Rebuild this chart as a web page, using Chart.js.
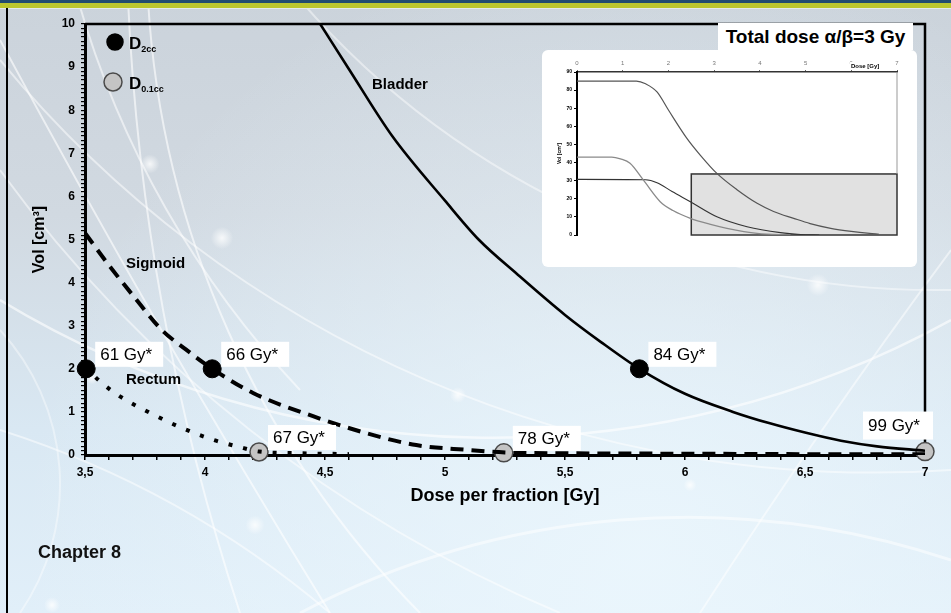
<!DOCTYPE html>
<html><head><meta charset="utf-8">
<script src="https://cdn.jsdelivr.net/npm/chart.js@4.4.1/dist/chart.umd.min.js"></script>
<style>
html,body{margin:0;padding:0;width:951px;height:613px;overflow:hidden;font-family:"Liberation Sans",Arial,sans-serif;}
canvas{position:absolute;left:0;top:0;}
#insetBox{position:absolute;left:542px;top:50px;width:375px;height:217px;background:#fff;border-radius:6px;overflow:hidden;}
#totalDose{position:absolute;left:718px;top:23px;width:195px;height:27px;background:#fff;font-weight:bold;font-size:19px;line-height:28px;text-align:center;color:#000;white-space:nowrap;}
#chapter{position:absolute;left:38px;top:542px;font-weight:bold;font-size:18px;color:#111;}
</style></head>
<body>
<canvas id="bg" width="951" height="613"></canvas>
<canvas id="main" width="951" height="613"></canvas>
<div id="insetBox"><canvas id="inset" width="375" height="217"></canvas></div>
<div id="totalDose">Total dose α/β=3 Gy</div>
<div id="chapter">Chapter 8</div>
<script>
// ---------------- data ----------------
const xTickLabels = ['3,5','4','4,5','5','5,5','6','6,5','7'];
const yTickLabels = ['0','1','2','3','4','5','6','7','8','9','10'];

const bladderX = [4.48, 4.6, 4.78, 5.0, 5.14, 5.3, 5.5, 5.65, 5.81, 6.0, 6.2, 6.35, 6.5, 6.65, 6.8, 7.0];
const bladderY = [10, 8.95, 7.4, 5.9, 5.0, 4.2, 3.25, 2.62, 2.0, 1.42, 1.0, 0.74, 0.52, 0.33, 0.2, 0.1];

const sigmoidX = [3.5, 3.6, 3.7, 3.82, 3.92, 4.03, 4.2, 4.45, 4.67, 4.88, 5.09, 5.25, 5.5, 6.0, 6.5, 7.0];
const sigmoidY = [5.15, 4.4, 3.7, 2.9, 2.45, 2.0, 1.44, 0.9, 0.51, 0.23, 0.12, 0.06, 0.04, 0.03, 0.02, 0.02];

const rectumX = [3.5, 3.56, 3.64, 3.77, 3.89, 4.03, 4.14, 4.225, 4.4, 4.6];
const rectumY = [2.05, 1.72, 1.38, 0.98, 0.66, 0.36, 0.19, 0.08, 0.04, 0.02];

const d2ccX = [3.505, 4.03, 5.81];
const d2ccY = [2.0, 2.0, 2.0];
const d2ccLabels = ['61 Gy*', '66 Gy*', '84 Gy*'];

const d01X = [4.225, 5.245, 7.0];
const d01Y = [0.07, 0.05, 0.08];
const d01Labels = ['67 Gy*', '78 Gy*', '99 Gy*'];

// inset (total dose, alpha/beta = 3 Gy)
const insetDoseTicks = ['0','1','2','3','4','5','6','7'];
const insetVolTicks = ['0','10','20','30','40','50','60','70','80','90'];
const insetAX = [0, 1.3, 1.5, 1.75, 2.0, 2.4, 2.7, 3.06, 3.5, 3.94, 4.3, 4.74, 5.1, 5.55, 6.0, 6.4, 6.6];
const insetAY = [85, 85, 83.5, 79, 69, 53.5, 44, 34, 25, 17.5, 13, 9.2, 6.3, 3.7, 2, 0.9, 0.5];
const insetBX = [0, 0.76, 0.95, 1.16, 1.45, 1.82, 2.1, 2.48, 2.9, 3.28, 3.94, 4.67];
const insetBY = [43, 43, 42, 39.6, 30.4, 18.4, 13.5, 9.2, 6, 3.7, 0.9, 0];
const insetCX = [0, 1.5, 1.75, 2.08, 2.48, 3.06, 3.72, 4.45, 4.89, 5.3];
const insetCY = [30.7, 30.5, 28.9, 24, 18.4, 10.1, 4.6, 1.3, 0.3, 0];
const insetBoxX = [2.5, 7];
const insetBoxY = [0, 33.7];

// ---------------- helpers ----------------
const FONT = "'Liberation Sans', Arial, sans-serif";
Chart.defaults.font.family = FONT;
const pts = (xs, ys) => xs.map((x, i) => ({x: x, y: ys[i]}));
const near = (a, b) => Math.abs(a - b) < 1e-6;

// ---------------- background slide ----------------
(function drawBg(){
  const c = document.getElementById('bg').getContext('2d');
  let g = c.createLinearGradient(0, 0, 0, 613);
  g.addColorStop(0, '#cbd3db');
  g.addColorStop(0.35, '#d1d9e1');
  g.addColorStop(0.7, '#d9e8f3');
  g.addColorStop(1, '#e1eff9');
  c.fillStyle = g; c.fillRect(0, 0, 951, 613);
  let r = c.createRadialGradient(640, 560, 0, 640, 560, 620);
  r.addColorStop(0, 'rgba(236,247,253,0.85)');
  r.addColorStop(1, 'rgba(236,247,253,0)');
  c.fillStyle = r; c.fillRect(0, 0, 951, 613);
  function arc3(p1, p2, p3, w, a){
    const [x1,y1]=p1,[x2,y2]=p2,[x3,y3]=p3;
    const d = 2*(x1*(y2-y3)+x2*(y3-y1)+x3*(y1-y2));
    const ux = ((x1*x1+y1*y1)*(y2-y3)+(x2*x2+y2*y2)*(y3-y1)+(x3*x3+y3*y3)*(y1-y2))/d;
    const uy = ((x1*x1+y1*y1)*(x3-x2)+(x2*x2+y2*y2)*(x1-x3)+(x3*x3+y3*y3)*(x2-x1))/d;
    const rad = Math.hypot(x1-ux, y1-uy);
    const a1=Math.atan2(y1-uy,x1-ux), a2=Math.atan2(y2-uy,x2-ux), a3=Math.atan2(y3-uy,x3-ux);
    const nm = v => ((v % (2*Math.PI)) + 2*Math.PI) % (2*Math.PI);
    const cw = nm(a2-a1) < nm(a3-a1);
    c.strokeStyle = 'rgba(255,255,255,' + a + ')'; c.lineWidth = w;
    c.beginPath(); c.arc(ux, uy, rad, a1, a3, !cw); c.stroke();
  }
  const arcs = [
    [[0,40],[110,240],[330,613],2,0.6],
    [[78,0],[140,160],[300,390],2,0.55],
    [[128,0],[150,230],[240,613],2,0.6],
    [[148,0],[200,260],[420,613],2,0.6],
    [[0,170],[250,430],[560,613],2,0.5],
    [[0,300],[420,435],[951,320],2.5,0.6],
    [[0,60],[450,390],[951,470],2,0.5],
    [[300,0],[520,180],[951,290],2,0.45],
    [[700,613],[850,390],[951,250],2,0.5],
    [[0,430],[200,520],[330,613],2,0.5],
    [[300,613],[620,520],[951,560],3,0.5],
    [[20,613],[60,480],[0,330],2,0.4]
  ];
  arcs.forEach(a => arc3(a[0], a[1], a[2], a[3], a[4]));
  // glowing dots
  [[150,164,6],[222,238,7],[92,378,4],[458,395,5],[818,285,7],[690,485,4],[255,525,6],[52,605,5]].forEach(d => {
    const rg = c.createRadialGradient(d[0], d[1], 0, d[0], d[1], d[2]*1.6);
    rg.addColorStop(0, 'rgba(255,255,255,0.8)'); rg.addColorStop(1, 'rgba(255,255,255,0)');
    c.fillStyle = rg; c.beginPath(); c.arc(d[0], d[1], d[2]*1.6, 0, 2*Math.PI); c.fill();
  });
  // header bands and left frame line
  c.fillStyle = '#224b6f'; c.fillRect(0, 0, 951, 3);
  c.fillStyle = '#bcc62e'; c.fillRect(0, 3, 951, 5);
  c.fillStyle = '#e4eaee'; c.fillRect(0, 8, 951, 1);
  c.fillStyle = '#000'; c.fillRect(6, 8, 2, 605);
})();

// ---------------- main chart plugins ----------------
const framePlugin = {
  id: 'frame',
  beforeDatasetsDraw(chart){
    const {ctx, chartArea: a} = chart;
    ctx.save(); ctx.strokeStyle = '#000'; ctx.lineWidth = 2.5;
    ctx.beginPath(); ctx.moveTo(a.left, a.top); ctx.lineTo(a.right, a.top); ctx.lineTo(a.right, a.bottom); ctx.stroke();
    ctx.restore();
  }
};

const pointLabelPlugin = {
  id: 'pointLabels',
  afterDatasetsDraw(chart){
    const ctx = chart.ctx;
    ctx.save();
    ctx.font = '17px ' + FONT;
    ctx.textBaseline = 'middle'; ctx.textAlign = 'left';
    const sets = [[3, d2ccLabels], [4, d01Labels]];
    sets.forEach(([di, labels]) => {
      const meta = chart.getDatasetMeta(di);
      meta.data.forEach((el, i) => {
        let dx = 9, dy = -27, w = 68, h = 25;
        if (di === 4 && i === labels.length - 1) { dx = -62; dy = -40; w = 70; h = 28; }
        const bx = el.x + dx, by = el.y + dy;
        ctx.fillStyle = '#fff'; ctx.fillRect(bx, by, w, h);
        ctx.fillStyle = '#000'; ctx.fillText(labels[i], bx + 5, by + h / 2 + 1);
      });
    });
    ctx.restore();
  }
};

const seriesNamePlugin = {
  id: 'seriesNames',
  afterDatasetsDraw(chart, args, opts){
    const {ctx, scales} = chart;
    ctx.save();
    ctx.font = 'bold 15px ' + FONT; ctx.fillStyle = '#000';
    ctx.textBaseline = 'middle'; ctx.textAlign = 'left';
    opts.items.forEach(it => {
      ctx.fillText(it.text, scales.x.getPixelForValue(it.x), scales.y.getPixelForValue(it.y));
    });
    ctx.restore();
  }
};

const legendPlugin = {
  id: 'customLegend',
  afterDraw(chart){
    const {ctx, chartArea: a} = chart;
    const entries = [
      {fill: '#000', stroke: '#000', cx: a.left + 30, cy: a.top + 18, r: 8, sub: '2cc'},
      {fill: '#c4c4c4', stroke: '#4a4a4a', cx: a.left + 28, cy: a.top + 58, r: 9, sub: '0.1cc'}
    ];
    ctx.save();
    entries.forEach(e => {
      ctx.beginPath(); ctx.arc(e.cx, e.cy, e.r, 0, 2 * Math.PI);
      ctx.fillStyle = e.fill; ctx.fill();
      ctx.lineWidth = 1.5; ctx.strokeStyle = e.stroke; ctx.stroke();
      ctx.fillStyle = '#000'; ctx.textBaseline = 'alphabetic'; ctx.textAlign = 'left';
      ctx.font = 'bold 17px ' + FONT;
      const tx = a.left + 44;
      ctx.fillText('D', tx, e.cy + 7);
      const dw = ctx.measureText('D').width;
      ctx.font = 'bold 9px ' + FONT;
      ctx.fillText(e.sub, tx + dw, e.cy + 10);
    });
    ctx.restore();
  }
};

new Chart(document.getElementById('main'), {
  type: 'line',
  data: {
    datasets: [
      {label: 'Bladder', data: pts(bladderX, bladderY), borderColor: '#000', borderWidth: 2.6,
       pointRadius: 0, cubicInterpolationMode: 'monotone', fill: false},
      {label: 'Sigmoid', data: pts(sigmoidX, sigmoidY), borderColor: '#000', borderWidth: 4,
       borderDash: [13, 8], pointRadius: 0, cubicInterpolationMode: 'monotone', fill: false},
      {label: 'Rectum', data: pts(rectumX, rectumY), borderColor: '#000', borderWidth: 4,
       borderDash: [4, 11], pointRadius: 0, cubicInterpolationMode: 'monotone', fill: false},
      {label: 'D2cc', data: pts(d2ccX, d2ccY), showLine: false, pointRadius: 9,
       pointBackgroundColor: '#000', pointBorderColor: '#000', pointBorderWidth: 1, clip: false},
      {label: 'D0.1cc', data: pts(d01X, d01Y), showLine: false, pointRadius: 9,
       pointBackgroundColor: '#c4c4c4', pointBorderColor: '#4a4a4a', pointBorderWidth: 1.5, clip: false}
    ]
  },
  options: {
    responsive: false, animation: false, devicePixelRatio: 1,
    layout: {padding: {left: 26, right: 26, top: 24, bottom: 106}},
    plugins: {
      legend: {display: false}, tooltip: {enabled: false},
      seriesNames: {items: [
        {text: 'Bladder', x: 4.696, y: 8.58},
        {text: 'Sigmoid', x: 3.671, y: 4.43},
        {text: 'Rectum', x: 3.671, y: 1.74}
      ]}
    },
    scales: {
      x: {
        type: 'linear', min: 3.5, max: 7,
        afterFit: s => { s.height = 52; },
        ticks: {
          stepSize: 0.1, autoSkip: false, maxRotation: 0, padding: 5, color: '#000',
          font: {size: 12, weight: 'bold'},
          callback: v => { const k = (v - 3.5) * 2; return near(k, Math.round(k)) ? xTickLabels[Math.round(k)] : ''; }
        },
        grid: {drawOnChartArea: false, tickLength: 5, color: '#000', lineWidth: 1.5},
        border: {color: '#000', width: 3},
        title: {display: true, text: 'Dose per fraction [Gy]', color: '#000', font: {size: 18, weight: 'bold'}, padding: 0}
      },
      y: {
        type: 'linear', min: 0, max: 10,
        afterFit: s => { s.width = 59; },
        ticks: {
          stepSize: 0.1, autoSkip: false, padding: 6, color: '#000',
          font: {size: 12, weight: 'bold'},
          callback: v => near(v, Math.round(v)) ? yTickLabels[Math.round(v)] : ''
        },
        grid: {drawOnChartArea: false, tickLength: 4, color: '#000', lineWidth: 1.2},
        border: {color: '#000', width: 3},
        title: {display: true, text: 'Vol [cm³]', color: '#000', font: {size: 16, weight: 'bold'}, padding: {top: 4, bottom: 0}}
      }
    }
  },
  plugins: [framePlugin, pointLabelPlugin, seriesNamePlugin, legendPlugin]
});

// ---------------- inset chart ----------------
const insetPlugin = {
  id: 'insetDeco',
  beforeDatasetsDraw(chart){
    const {ctx, scales, chartArea: a} = chart;
    const x0 = scales.x.getPixelForValue(insetBoxX[0]), x1 = scales.x.getPixelForValue(insetBoxX[1]);
    const y0 = scales.y.getPixelForValue(insetBoxY[1]), y1 = scales.y.getPixelForValue(insetBoxY[0]);
    ctx.save();
    ctx.fillStyle = '#e1e1e1'; ctx.fillRect(x0, y0, x1 - x0, y1 - y0);
    ctx.strokeStyle = '#333'; ctx.lineWidth = 1.5; ctx.strokeRect(x0, y0, x1 - x0, y1 - y0);
    ctx.strokeStyle = '#999'; ctx.lineWidth = 1;
    ctx.beginPath(); ctx.moveTo(a.right, a.top); ctx.lineTo(a.right, y0); ctx.stroke();
    ctx.restore();
  },
  afterDraw(chart){
    const {ctx, chartArea: a} = chart;
    ctx.save();
    ctx.fillStyle = '#fff'; ctx.fillRect(a.right - 47, a.top - 10, 34, 8);
    ctx.fillStyle = '#000'; ctx.font = 'bold 6px ' + FONT;
    ctx.textAlign = 'left'; ctx.textBaseline = 'middle';
    ctx.fillText('Dose [Gy]', a.right - 46, a.top - 6);
    ctx.restore();
  }
};

new Chart(document.getElementById('inset'), {
  type: 'line',
  data: {
    datasets: [
      {data: pts(insetAX, insetAY), borderColor: '#555', borderWidth: 1.2, pointRadius: 0, cubicInterpolationMode: 'monotone'},
      {data: pts(insetBX, insetBY), borderColor: '#8a8a8a', borderWidth: 1.3, pointRadius: 0, cubicInterpolationMode: 'monotone'},
      {data: pts(insetCX, insetCY), borderColor: '#333', borderWidth: 1.1, pointRadius: 0, cubicInterpolationMode: 'monotone'}
    ]
  },
  options: {
    responsive: false, animation: false, devicePixelRatio: 1,
    layout: {padding: {left: 0, right: 20, top: 0, bottom: 32}},
    plugins: {legend: {display: false}, tooltip: {enabled: false}},
    scales: {
      x: {
        type: 'linear', position: 'top', min: 0, max: 7,
        afterFit: s => { s.height = 22; },
        ticks: {stepSize: 1, color: '#777', font: {size: 6}, padding: 3, maxRotation: 0,
                callback: v => insetDoseTicks[Math.round(v)]},
        grid: {drawOnChartArea: false, tickLength: 2, color: '#666'},
        border: {color: '#333', width: 1.5}
      },
      y: {
        type: 'linear', min: 0, max: 90,
        afterFit: s => { s.width = 35; },
        ticks: {stepSize: 10, color: '#000', font: {size: 5, weight: 'bold'}, padding: 2,
                callback: v => insetVolTicks[Math.round(v / 10)]},
        grid: {drawOnChartArea: false, tickLength: 3, color: '#000'},
        border: {color: '#000', width: 2},
        title: {display: true, text: 'Vol [cm³]', color: '#000', font: {size: 5, weight: 'bold'}, padding: {top: 15, bottom: 0}}
      }
    }
  },
  plugins: [insetPlugin]
});
</script>
</body></html>
